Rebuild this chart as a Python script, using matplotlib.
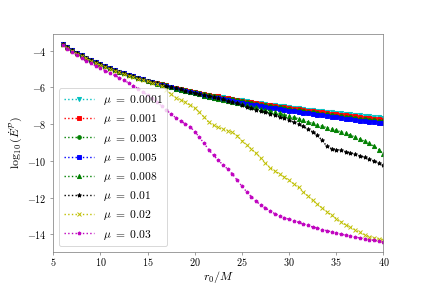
import numpy as np
import matplotlib
matplotlib.use("Agg")
import matplotlib.pyplot as plt

plt.rcParams['font.family'] = 'serif'
plt.rcParams['font.serif'] = ['cmr10', 'DejaVu Serif']
plt.rcParams['mathtext.fontset'] = 'cm'
plt.rcParams['axes.formatter.use_mathtext'] = True

# radius grid
r0 = np.arange(6, 40.5, 0.5)

mu_labels = ['0.0001', '0.001', '0.003', '0.005', '0.008', '0.01', '0.02', '0.03']

logE_0001 = [-3.63, -3.80, -3.96, -4.11, -4.25, -4.39, -4.51, -4.63, -4.74, -4.85,
             -4.95, -5.04, -5.14, -5.22, -5.31, -5.39, -5.47, -5.55, -5.62, -5.69,
             -5.76, -5.83, -5.89, -5.95, -6.02, -6.08, -6.13, -6.19, -6.24, -6.29,
             -6.34, -6.39, -6.44, -6.48, -6.53, -6.57, -6.61, -6.66, -6.70, -6.74,
             -6.78, -6.82, -6.86, -6.89, -6.93, -6.96, -7.00, -7.03, -7.07, -7.10,
             -7.13, -7.16, -7.20, -7.23, -7.26, -7.29, -7.32, -7.35, -7.38, -7.41,
             -7.44, -7.46, -7.49, -7.52, -7.55, -7.57, -7.60, -7.63, -7.65]

logE_001 = [-3.63, -3.80, -3.96, -4.11, -4.25, -4.39, -4.51, -4.63, -4.74, -4.85,
            -4.95, -5.04, -5.14, -5.22, -5.31, -5.39, -5.47, -5.55, -5.62, -5.69,
            -5.76, -5.83, -5.89, -5.95, -6.02, -6.08, -6.13, -6.19, -6.24, -6.29,
            -6.35, -6.40, -6.45, -6.49, -6.55, -6.59, -6.63, -6.68, -6.73, -6.77,
            -6.81, -6.85, -6.90, -6.93, -6.97, -7.00, -7.05, -7.08, -7.12, -7.15,
            -7.19, -7.22, -7.26, -7.29, -7.33, -7.36, -7.39, -7.42, -7.46, -7.49,
            -7.52, -7.54, -7.58, -7.61, -7.64, -7.66, -7.70, -7.73, -7.75]

logE_003 = [-3.63, -3.80, -3.96, -4.11, -4.25, -4.39, -4.51, -4.63, -4.74, -4.85,
            -4.95, -5.04, -5.14, -5.22, -5.31, -5.39, -5.47, -5.55, -5.62, -5.69,
            -5.76, -5.83, -5.89, -5.95, -6.02, -6.08, -6.13, -6.19, -6.24, -6.30,
            -6.35, -6.41, -6.46, -6.51, -6.56, -6.61, -6.65, -6.70, -6.75, -6.80,
            -6.84, -6.89, -6.93, -6.97, -7.01, -7.05, -7.09, -7.13, -7.17, -7.21,
            -7.24, -7.28, -7.32, -7.36, -7.39, -7.43, -7.46, -7.50, -7.53, -7.57,
            -7.60, -7.63, -7.66, -7.70, -7.73, -7.76, -7.79, -7.83, -7.85]

logE_005 = [-3.63, -3.80, -3.96, -4.11, -4.25, -4.39, -4.51, -4.63, -4.74, -4.85,
            -4.95, -5.04, -5.14, -5.22, -5.31, -5.39, -5.47, -5.56, -5.63, -5.71,
            -5.79, -5.86, -5.93, -6.00, -6.07, -6.14, -6.20, -6.27, -6.32, -6.38,
            -6.44, -6.50, -6.55, -6.60, -6.65, -6.70, -6.74, -6.80, -6.85, -6.90,
            -6.94, -6.98, -7.02, -7.06, -7.10, -7.14, -7.18, -7.21, -7.26, -7.30,
            -7.33, -7.37, -7.41, -7.45, -7.48, -7.52, -7.55, -7.59, -7.63, -7.66,
            -7.70, -7.73, -7.76, -7.80, -7.83, -7.86, -7.90, -7.93, -7.96]

logE_008 = [-3.63, -3.80, -3.96, -4.11, -4.25, -4.39, -4.51, -4.63, -4.74, -4.85,
            -4.95, -5.04, -5.14, -5.22, -5.31, -5.39, -5.47, -5.56, -5.63, -5.71,
            -5.79, -5.86, -5.93, -6.00, -6.07, -6.14, -6.20, -6.27, -6.32, -6.38,
            -6.44, -6.50, -6.56, -6.62, -6.68, -6.74, -6.80, -6.86, -6.92, -6.98,
            -7.04, -7.09, -7.15, -7.21, -7.27, -7.34, -7.41, -7.48, -7.55, -7.63,
            -7.70, -7.79, -7.88, -7.96, -8.04, -8.11, -8.19, -8.26, -8.34, -8.42,
            -8.50, -8.60, -8.70, -8.81, -8.93, -9.05, -9.19, -9.38, -9.62]

logE_01 = [-3.63, -3.80, -3.96, -4.11, -4.25, -4.39, -4.51, -4.63, -4.74, -4.85,
           -4.95, -5.04, -5.14, -5.22, -5.31, -5.39, -5.47, -5.55, -5.62, -5.69,
           -5.77, -5.84, -5.91, -5.97, -6.04, -6.11, -6.17, -6.23, -6.29, -6.35,
           -6.41, -6.47, -6.53, -6.59, -6.65, -6.72, -6.79, -6.87, -6.95, -7.04,
           -7.12, -7.20, -7.27, -7.34, -7.42, -7.51, -7.60, -7.69, -7.79, -7.89,
           -8.00, -8.12, -8.28, -8.41, -8.60, -8.88, -9.20, -9.33, -9.38, -9.43,
           -9.49, -9.56, -9.64, -9.72, -9.81, -9.90, -10.00, -10.11, -10.23]

logE_02 = [-3.68, -3.84, -4.00, -4.15, -4.29, -4.42, -4.55, -4.67, -4.78, -4.89,
           -4.99, -5.09, -5.18, -5.27, -5.36, -5.44, -5.52, -5.59, -5.66, -5.74,
           -5.82, -5.93, -6.12, -6.38, -6.55, -6.68, -6.80, -6.95, -7.12, -7.35,
           -7.62, -7.90, -8.07, -8.18, -8.27, -8.35, -8.45, -8.62, -8.90, -9.12,
           -9.35, -9.58, -9.85, -10.12, -10.37, -10.55, -10.72, -10.88, -11.06, -11.25,
           -11.45, -11.68, -11.92, -12.15, -12.36, -12.56, -12.76, -12.96, -13.14, -13.32,
           -13.48, -13.62, -13.76, -13.90, -14.02, -14.12, -14.20, -14.27, -14.33]

logE_03 = [-3.70, -3.89, -4.07, -4.24, -4.40, -4.55, -4.69, -4.82, -4.95, -5.08,
           -5.21, -5.34, -5.47, -5.61, -5.75, -5.90, -6.06, -6.23, -6.41, -6.60,
           -6.80, -7.01, -7.23, -7.45, -7.65, -7.82, -7.98, -8.14, -8.40, -8.72,
           -9.05, -9.40, -9.70, -9.97, -10.22, -10.45, -10.72, -11.05, -11.38, -11.68,
           -11.95, -12.20, -12.40, -12.57, -12.73, -12.88, -13.00, -13.10, -13.19, -13.27,
           -13.35, -13.44, -13.52, -13.60, -13.67, -13.74, -13.80, -13.87, -13.93, -13.99,
           -14.05, -14.10, -14.15, -14.20, -14.25, -14.29, -14.33, -14.38, -14.42]

series = [logE_0001, logE_001, logE_003, logE_005, logE_008, logE_01, logE_02, logE_03]
colors = ['c', 'r', 'g', 'b', 'g', 'k', 'y', 'm']
markers = ['v', 's', 'o', 's', '^', '*', 'x', 'p']
msizes = [4.5, 4.5, 4, 5, 4.5, 4.5, 4.5, 3.5]

dpi = 66.5625
fig, ax = plt.subplots(figsize=(426 / dpi, 284 / dpi), dpi=dpi)
fig.subplots_adjust(left=0.125, right=0.9, bottom=0.113, top=0.88)

for y, c, m, ms, lab in zip(series, colors, markers, msizes, mu_labels):
    ax.plot(r0, y, ls=':', color=c, marker=m, ms=ms, lw=1.5, label=r'$\mu\ =\ ' + lab + '$')

ax.set_xlim(5, 40)
ax.set_xlabel(r'$r_0/M$', fontsize=13, labelpad=1)
ax.set_ylabel(r'$\log_{10}(\dot{E}^{\mathcal{P}})$', fontsize=13, labelpad=2)
ax.tick_params(labelsize=11, color='0.5')
ax.tick_params(axis='x', pad=1)
for s in ax.spines.values():
    s.set_color('0.5')

ax.legend(loc='lower left', fontsize=12.5, handlelength=2.6, labelspacing=0.45)

fig.savefig('out.png', dpi=dpi)
